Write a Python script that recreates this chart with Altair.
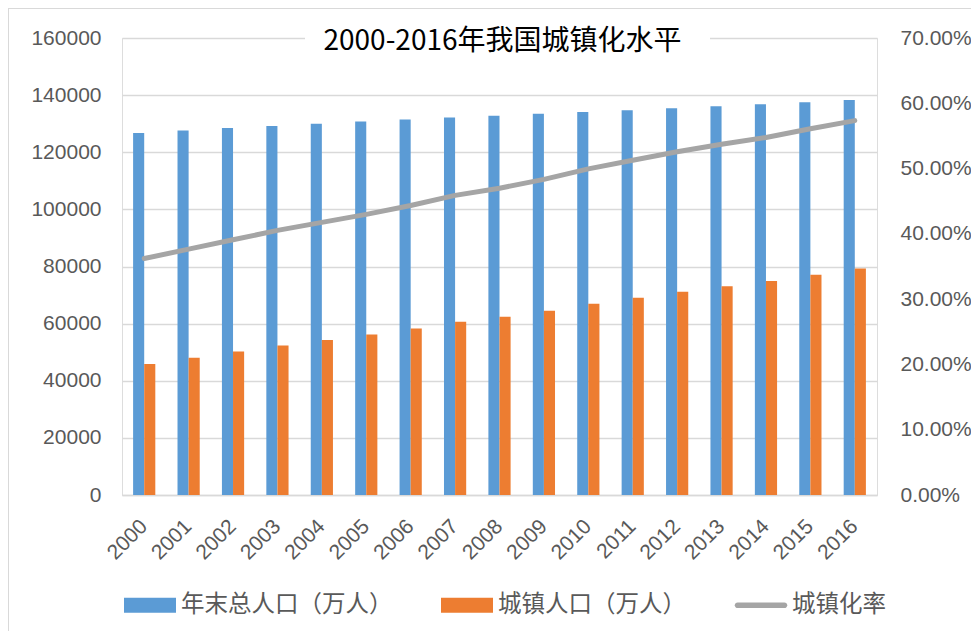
import altair as alt
import pandas as pd

years = ["2000", "2001", "2002", "2003", "2004", "2005", "2006", "2007", "2008",
         "2009", "2010", "2011", "2012", "2013", "2014", "2015", "2016"]
total_pop = [126743, 127627, 128453, 129227, 129988, 130756, 131448, 132129, 132802,
             133450, 134091, 134735, 135404, 136072, 136782, 137462, 138271]
urban_pop = [45906, 48064, 50212, 52376, 54283, 56212, 58288, 60633, 62403,
             64512, 66978, 69079, 71182, 73111, 74916, 77116, 79298]
urban_rate = [36.22, 37.66, 39.09, 40.53, 41.76, 42.99, 44.34, 45.89, 46.99,
              48.34, 49.95, 51.27, 52.57, 53.73, 54.77, 56.10, 57.35]
series_names = ["年末总人口（万人）", "城镇人口（万人）", "城镇化率"]
series_colors = ["#5B9BD5", "#ED7D31", "#A5A5A5"]
left_ticks = [0, 20000, 40000, 60000, 80000, 100000, 120000, 140000, 160000]
right_ticks = [0, 0.1, 0.2, 0.3, 0.4, 0.5, 0.6, 0.7]
title_text = "2000-2016年我国城镇化水平"

bars_df = pd.DataFrame({
    "year": years + years,
    "series": [series_names[0]] * len(years) + [series_names[1]] * len(years),
    "value": total_pop + urban_pop,
})
line_df = pd.DataFrame({"year": years, "rate": [r / 100 for r in urban_rate]})

W, H = 755, 457
LABEL_FONT = "Liberation Sans"
CJK_FONT = "Noto Sans CJK SC"
GRID = "#D9D9D9"
TXT = "#595959"

bar_rect = "M-1,-0.29H1V0.29H-1Z"
line_sym = "M-0.9,-0.11H0.9A0.11,0.11 0 0 1 0.9,0.11H-0.9A0.11,0.11 0 0 1 -0.9,-0.11Z"
sym_expr = "datum.value === '" + series_names[2] + "' ? '" + line_sym + "' : '" + bar_rect + "'"

bars = alt.Chart(bars_df).mark_bar().encode(
    x=alt.X("year:N", sort=years, title=None,
            scale=alt.Scale(paddingInner=0.5, paddingOuter=0.25),
            axis=alt.Axis(labelAngle=-45, labelAlign="right", labelBaseline="middle",
                          labelPadding=28, ticks=False, domainColor=GRID, domainWidth=1.5,
                          labelFont=LABEL_FONT, labelFontSize=21, labelColor=TXT,
                          grid=False)),
    xOffset=alt.XOffset("series:N", sort=series_names[:2],
                        scale=alt.Scale(paddingInner=0, paddingOuter=0)),
    y=alt.Y("value:Q", title=None,
            scale=alt.Scale(domain=[0, 160000], nice=False),
            axis=alt.Axis(values=left_ticks, format="d", grid=True, gridColor=GRID,
                          gridWidth=1.5, domain=False, ticks=False, labelPadding=21,
                          labelFont=LABEL_FONT, labelFontSize=21, labelColor=TXT)),
    color=alt.Color("series:N",
                    scale=alt.Scale(domain=series_names, range=series_colors),
                    legend=alt.Legend(
                        orient="none", legendX=2, legendY=541, direction="horizontal",
                        title=None, padding=0, symbolType={"expr": sym_expr},
                        symbolSize=2704,
                        symbolStrokeWidth=0, symbolOpacity=1, columnPadding=48,
                        labelOffset=5, labelFont=CJK_FONT, labelFontSize=23.5,
                        labelColor=TXT, labelLimit=400,
                    )),
)

line = alt.Chart(line_df).mark_line(
    strokeWidth=5, strokeCap="round", strokeJoin="round", color=series_colors[2]
).encode(
    x=alt.X("year:N", sort=years),
    y=alt.Y("rate:Q", title=None,
            scale=alt.Scale(domain=[0, 0.7], nice=False),
            axis=alt.Axis(orient="right", values=right_ticks, format=".2%", grid=False,
                          domain=False, ticks=False, labelPadding=23,
                          labelFont=LABEL_FONT, labelFontSize=21, labelColor=TXT)),
)

one_row = pd.DataFrame({"k": [0]})
title_gap = alt.Chart(one_row).mark_rect(color="white").encode(
    x=alt.value(183), x2=alt.value(588), y=alt.value(-4), y2=alt.value(4)
)
title_mark = alt.Chart(one_row).mark_text(
    font=CJK_FONT, fontSize=28, color="#000000", align="center", baseline="middle"
).encode(x=alt.value(W / 2 + 3), y=alt.value(4), text=alt.value(title_text))
frame = alt.Chart(one_row).mark_rect(fill=None, stroke=GRID, strokeWidth=2).encode(
    x=alt.value(-114), x2=alt.value(W + 120), y=alt.value(-30), y2=alt.value(H + 160)
)

chart = alt.layer(frame, bars, line, title_gap, title_mark).resolve_scale(
    y="independent"
).properties(
    width=W, height=H,
    autosize=alt.AutoSizeParams(type="none"),
    padding={"left": 114, "top": 30, "right": 94, "bottom": 136},
).configure_view(stroke=None).configure(background="white")

chart.save("out.html", embed_options={"renderer": "svg", "actions": False})
